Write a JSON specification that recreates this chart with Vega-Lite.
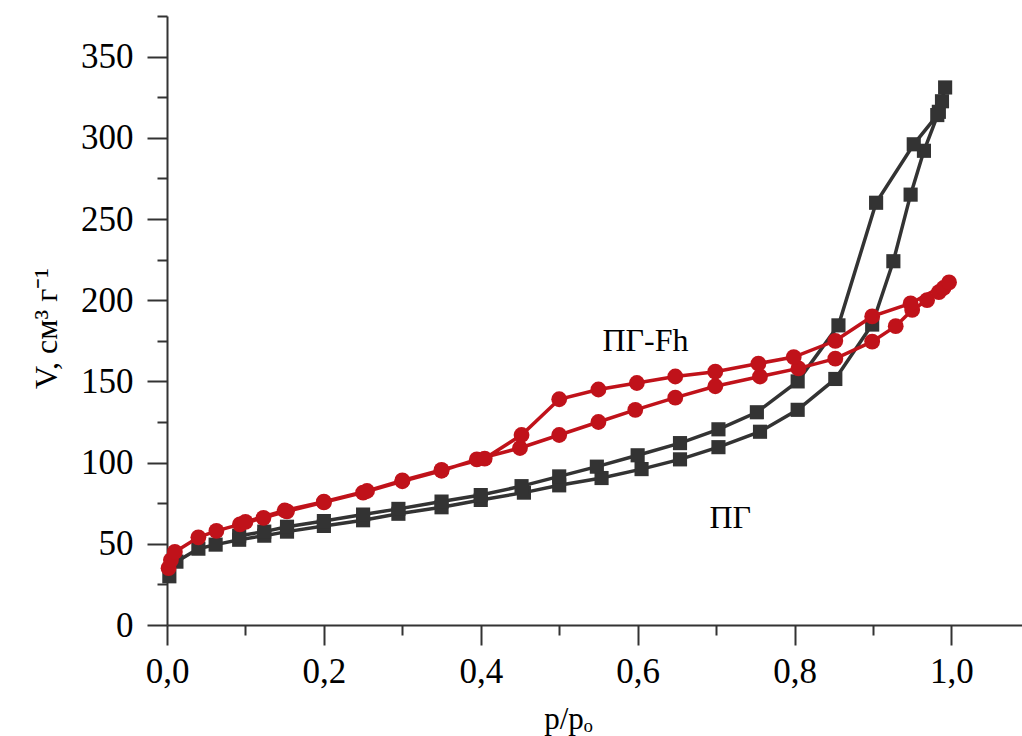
{
  "$schema": "https://vega.github.io/schema/vega-lite/v6.json",
  "width": 855,
  "height": 609,
  "autosize": {"type": "none"},
  "padding": {"left": 167, "top": 16, "right": 0, "bottom": 111},
  "background": "white",
  "config": {"view": {"stroke": null}, "font": "Liberation Serif"},
  "datasets": {
    "iso": [
      {"s": "ПГ", "i": 1, "x": 0.003, "y": 30},
      {"s": "ПГ", "i": 2, "x": 0.012, "y": 39},
      {"s": "ПГ", "i": 3, "x": 0.04, "y": 47},
      {"s": "ПГ", "i": 4, "x": 0.062, "y": 49.5},
      {"s": "ПГ", "i": 5, "x": 0.092, "y": 52.5},
      {"s": "ПГ", "i": 6, "x": 0.124, "y": 55},
      {"s": "ПГ", "i": 7, "x": 0.153, "y": 57.5},
      {"s": "ПГ", "i": 8, "x": 0.2, "y": 61},
      {"s": "ПГ", "i": 9, "x": 0.25, "y": 64.5},
      {"s": "ПГ", "i": 10, "x": 0.295, "y": 68.5},
      {"s": "ПГ", "i": 11, "x": 0.35, "y": 72.5},
      {"s": "ПГ", "i": 12, "x": 0.4, "y": 77},
      {"s": "ПГ", "i": 13, "x": 0.455, "y": 81.5},
      {"s": "ПГ", "i": 14, "x": 0.5, "y": 86},
      {"s": "ПГ", "i": 15, "x": 0.554, "y": 90.5},
      {"s": "ПГ", "i": 16, "x": 0.605, "y": 96},
      {"s": "ПГ", "i": 17, "x": 0.654, "y": 102},
      {"s": "ПГ", "i": 18, "x": 0.703, "y": 109.5},
      {"s": "ПГ", "i": 19, "x": 0.756, "y": 119},
      {"s": "ПГ", "i": 20, "x": 0.804, "y": 132.5},
      {"s": "ПГ", "i": 21, "x": 0.852, "y": 151.5},
      {"s": "ПГ", "i": 22, "x": 0.899, "y": 185},
      {"s": "ПГ", "i": 23, "x": 0.926, "y": 224},
      {"s": "ПГ", "i": 24, "x": 0.948, "y": 265},
      {"s": "ПГ", "i": 25, "x": 0.965, "y": 292},
      {"s": "ПГ", "i": 26, "x": 0.984, "y": 316},
      {"s": "ПГ", "i": 27, "x": 0.988, "y": 322.5},
      {"s": "ПГ", "i": 28, "x": 0.992, "y": 331},
      {"s": "ПГ", "i": 29, "x": 0.982, "y": 314},
      {"s": "ПГ", "i": 30, "x": 0.952, "y": 296},
      {"s": "ПГ", "i": 31, "x": 0.904, "y": 260},
      {"s": "ПГ", "i": 32, "x": 0.856, "y": 184.5},
      {"s": "ПГ", "i": 33, "x": 0.804, "y": 150},
      {"s": "ПГ", "i": 34, "x": 0.752, "y": 131},
      {"s": "ПГ", "i": 35, "x": 0.703, "y": 120.5},
      {"s": "ПГ", "i": 36, "x": 0.654, "y": 112},
      {"s": "ПГ", "i": 37, "x": 0.6, "y": 104.5},
      {"s": "ПГ", "i": 38, "x": 0.548, "y": 97.5},
      {"s": "ПГ", "i": 39, "x": 0.5, "y": 91.5},
      {"s": "ПГ", "i": 40, "x": 0.452, "y": 85.5},
      {"s": "ПГ", "i": 41, "x": 0.4, "y": 80},
      {"s": "ПГ", "i": 42, "x": 0.35, "y": 76},
      {"s": "ПГ", "i": 43, "x": 0.295, "y": 71.5},
      {"s": "ПГ", "i": 44, "x": 0.25, "y": 68},
      {"s": "ПГ", "i": 45, "x": 0.2, "y": 64},
      {"s": "ПГ", "i": 46, "x": 0.153, "y": 60.5},
      {"s": "ПГ", "i": 47, "x": 0.124, "y": 57.5},
      {"s": "ПГ", "i": 48, "x": 0.092, "y": 55},
      {"s": "ПГ-Fh", "i": 1, "x": 0.002, "y": 35},
      {"s": "ПГ-Fh", "i": 2, "x": 0.005, "y": 40},
      {"s": "ПГ-Fh", "i": 3, "x": 0.01, "y": 45},
      {"s": "ПГ-Fh", "i": 4, "x": 0.04, "y": 54},
      {"s": "ПГ-Fh", "i": 5, "x": 0.063, "y": 58},
      {"s": "ПГ-Fh", "i": 6, "x": 0.093, "y": 62},
      {"s": "ПГ-Fh", "i": 7, "x": 0.123, "y": 66},
      {"s": "ПГ-Fh", "i": 8, "x": 0.153, "y": 70},
      {"s": "ПГ-Fh", "i": 9, "x": 0.2, "y": 75.5},
      {"s": "ПГ-Fh", "i": 10, "x": 0.25, "y": 81.5},
      {"s": "ПГ-Fh", "i": 11, "x": 0.3, "y": 88.5},
      {"s": "ПГ-Fh", "i": 12, "x": 0.35, "y": 95},
      {"s": "ПГ-Fh", "i": 13, "x": 0.395, "y": 102},
      {"s": "ПГ-Fh", "i": 14, "x": 0.45, "y": 109},
      {"s": "ПГ-Fh", "i": 15, "x": 0.5, "y": 117},
      {"s": "ПГ-Fh", "i": 16, "x": 0.55, "y": 125},
      {"s": "ПГ-Fh", "i": 17, "x": 0.597, "y": 132.5},
      {"s": "ПГ-Fh", "i": 18, "x": 0.648, "y": 140},
      {"s": "ПГ-Fh", "i": 19, "x": 0.699, "y": 147},
      {"s": "ПГ-Fh", "i": 20, "x": 0.756, "y": 153},
      {"s": "ПГ-Fh", "i": 21, "x": 0.805, "y": 158},
      {"s": "ПГ-Fh", "i": 22, "x": 0.852, "y": 164},
      {"s": "ПГ-Fh", "i": 23, "x": 0.899, "y": 174.5},
      {"s": "ПГ-Fh", "i": 24, "x": 0.929, "y": 184},
      {"s": "ПГ-Fh", "i": 25, "x": 0.95, "y": 194},
      {"s": "ПГ-Fh", "i": 26, "x": 0.969, "y": 200},
      {"s": "ПГ-Fh", "i": 27, "x": 0.984, "y": 205},
      {"s": "ПГ-Fh", "i": 28, "x": 0.99, "y": 207.5},
      {"s": "ПГ-Fh", "i": 29, "x": 0.997, "y": 211},
      {"s": "ПГ-Fh", "i": 30, "x": 0.948, "y": 198},
      {"s": "ПГ-Fh", "i": 31, "x": 0.899, "y": 190},
      {"s": "ПГ-Fh", "i": 32, "x": 0.852, "y": 175},
      {"s": "ПГ-Fh", "i": 33, "x": 0.799, "y": 165},
      {"s": "ПГ-Fh", "i": 34, "x": 0.754, "y": 161},
      {"s": "ПГ-Fh", "i": 35, "x": 0.699, "y": 156},
      {"s": "ПГ-Fh", "i": 36, "x": 0.648, "y": 153},
      {"s": "ПГ-Fh", "i": 37, "x": 0.599, "y": 149},
      {"s": "ПГ-Fh", "i": 38, "x": 0.55, "y": 145},
      {"s": "ПГ-Fh", "i": 39, "x": 0.5, "y": 139},
      {"s": "ПГ-Fh", "i": 40, "x": 0.452, "y": 117},
      {"s": "ПГ-Fh", "i": 41, "x": 0.405, "y": 102.5},
      {"s": "ПГ-Fh", "i": 42, "x": 0.35, "y": 95.5},
      {"s": "ПГ-Fh", "i": 43, "x": 0.3, "y": 89},
      {"s": "ПГ-Fh", "i": 44, "x": 0.255, "y": 82.5},
      {"s": "ПГ-Fh", "i": 45, "x": 0.2, "y": 76},
      {"s": "ПГ-Fh", "i": 46, "x": 0.15, "y": 70.5},
      {"s": "ПГ-Fh", "i": 47, "x": 0.1, "y": 63.5}
    ],
    "labels": [
      {"t": "ПГ-Fh", "x": 0.61, "y": 175},
      {"t": "ПГ", "x": 0.718, "y": 66}
    ]
  },
  "resolve": {"axis": {"x": "independent", "y": "independent"}},
  "layer": [
    {
      "data": {"name": "iso"},
      "transform": [{"filter": "datum.s === 'ПГ'"}],
      "mark": {"type": "line", "color": "#333333", "strokeWidth": 3.5},
      "encoding": {
        "x": {"field": "x", "type": "quantitative",
          "scale": {"domain": [0, 1.09], "nice": false, "zero": false},
          "axis": {"orient": "bottom", "values": [0, 0.2, 0.4, 0.6, 0.8, 1.0],
            "labelExpr": "replace(format(datum.value, '.1f'), '.', ',')",
            "grid": false, "domainColor": "#333333", "domainWidth": 2,
            "tickColor": "#333333", "tickWidth": 2, "tickSize": 20,
            "labelFont": "Liberation Serif", "labelFontSize": 35, "labelColor": "#000000", "labelPadding": 9,
            "labelFlush": false, "labelOverlap": false,
            "title": "p/pₒ", "titleFont": "Liberation Serif", "titleFontSize": 31, "titleFontWeight": "normal",
            "titleColor": "#000000", "titleX": 401, "titleY": 103, "titleAnchor": null, "titleAlign": "center", "titleBaseline": "alphabetic"}},
        "y": {"field": "y", "type": "quantitative",
          "scale": {"domain": [0, 375], "nice": false},
          "axis": {"orient": "left", "values": [0, 50, 100, 150, 200, 250, 300, 350],
            "grid": false, "domainColor": "#333333", "domainWidth": 2,
            "tickColor": "#333333", "tickWidth": 2, "tickSize": 20,
            "labelFont": "Liberation Serif", "labelFontSize": 35, "labelColor": "#000000", "labelPadding": 14,
            "labelFlush": false, "labelOverlap": false,
            "title": "V, см³ г⁻¹", "titleFont": "Liberation Serif", "titleFontSize": 32, "titleFontWeight": "normal",
            "titleColor": "#000000", "titleAngle": -90, "titleX": -111, "titleY": 312, "titleAnchor": null, "titleAlign": "center", "titleBaseline": "alphabetic"}},
        "order": {"field": "i", "type": "quantitative"}
      }
    },
    {
      "data": {"name": "iso"},
      "transform": [{"filter": "datum.s === 'ПГ'"}],
      "mark": {"type": "point", "shape": "square", "filled": true, "color": "#333333", "opacity": 1, "size": 200},
      "encoding": {
        "x": {"field": "x", "type": "quantitative",
          "axis": {"orient": "bottom", "values": [0.1, 0.3, 0.5, 0.7, 0.9], "labels": false, "domain": false,
            "grid": false, "tickColor": "#333333", "tickWidth": 2, "tickSize": 10, "title": null}},
        "y": {"field": "y", "type": "quantitative",
          "axis": {"orient": "left", "values": [25, 75, 125, 175, 225, 275, 325, 375], "labels": false, "domain": false,
            "grid": false, "tickColor": "#333333", "tickWidth": 2, "tickSize": 10, "title": null}}
      }
    },
    {
      "data": {"name": "iso"},
      "transform": [{"filter": "datum.s === 'ПГ-Fh'"}],
      "mark": {"type": "line", "color": "#c0121a", "strokeWidth": 3.5},
      "encoding": {
        "x": {"field": "x", "type": "quantitative", "axis": null},
        "y": {"field": "y", "type": "quantitative", "axis": null},
        "order": {"field": "i", "type": "quantitative"}
      }
    },
    {
      "data": {"name": "iso"},
      "transform": [{"filter": "datum.s === 'ПГ-Fh'"}],
      "mark": {"type": "point", "shape": "circle", "filled": true, "color": "#c0121a", "opacity": 1, "size": 250},
      "encoding": {
        "x": {"field": "x", "type": "quantitative", "axis": null},
        "y": {"field": "y", "type": "quantitative", "axis": null}
      }
    },
    {
      "data": {"name": "labels"},
      "mark": {"type": "text", "font": "Liberation Serif", "fontSize": 32, "color": "#000000", "align": "center", "baseline": "middle"},
      "encoding": {
        "x": {"field": "x", "type": "quantitative", "axis": null},
        "y": {"field": "y", "type": "quantitative", "axis": null},
        "text": {"field": "t"}
      }
    }
  ]
}
